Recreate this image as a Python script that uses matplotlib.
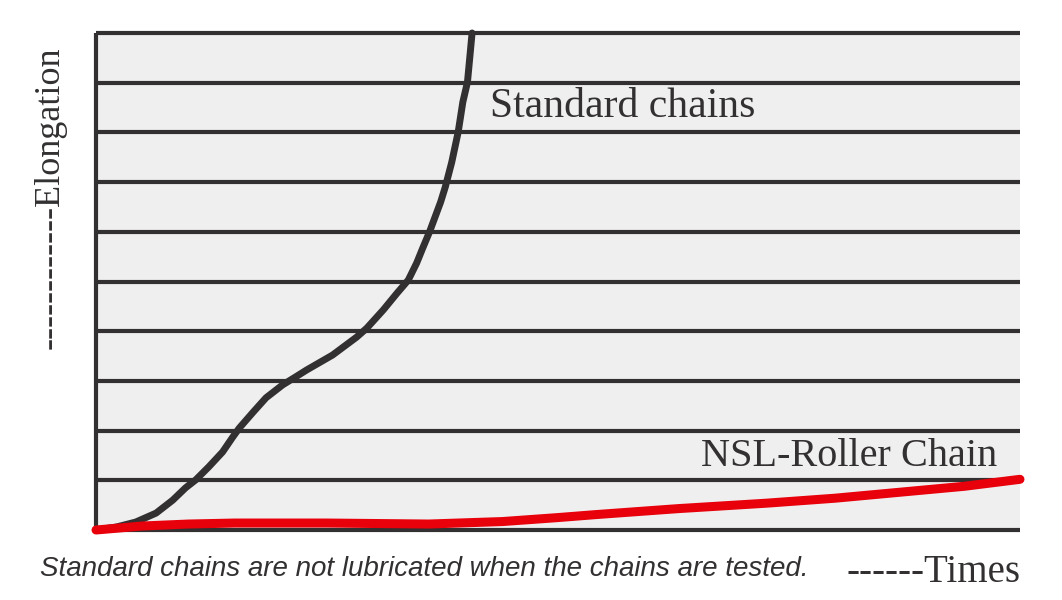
import matplotlib
matplotlib.use("Agg")
import matplotlib.pyplot as plt

# Data (x: Times, y: Elongation, grid units)
std_x = [0.00, 0.22, 0.43, 0.65, 0.83, 0.97, 1.08, 1.22, 1.37, 1.48, 1.55, 1.70, 1.84,
         2.02, 2.16, 2.28, 2.56, 2.82, 2.93, 3.11, 3.26, 3.38, 3.47, 3.54, 3.61, 3.68,
         3.73, 3.78, 3.85, 3.92, 3.97, 4.02, 4.05, 4.07]
std_y = [0.00, 0.06, 0.16, 0.34, 0.60, 0.85, 1.01, 1.27, 1.57, 1.87, 2.05, 2.37, 2.66,
         2.92, 3.08, 3.22, 3.52, 3.88, 4.06, 4.43, 4.77, 5.03, 5.37, 5.69, 6.00, 6.35,
         6.60, 6.90, 7.40, 8.01, 8.61, 9.01, 9.60, 10.00]
nsl_x = [0.00, 0.50, 1.00, 1.50, 2.50, 3.60, 4.40, 5.00, 5.41, 6.30, 7.26, 8.00, 8.70, 9.40, 10.00]
nsl_y = [0.00, 0.08, 0.12, 0.14, 0.14, 0.12, 0.17, 0.25, 0.31, 0.43, 0.54, 0.64, 0.76, 0.88, 1.02]
grid_levels = list(range(0, 11))

series_labels = ["Standard chains", "NSL-Roller Chain"]
y_label = "------------Elongation"
x_label = "------Times"
note = "Standard chains are not lubricated when the chains are tested."

fig = plt.figure(figsize=(10.62, 6.0), dpi=100)
fig.patch.set_facecolor("white")
ax = fig.add_axes([96 / 1062, 1 - 530 / 600, (1020 - 96) / 1062, (530 - 33) / 600])
ax.set_facecolor("#efefef")
ax.set_xlim(0, 10)
ax.set_ylim(0, 10)
for s in ax.spines.values():
    s.set_visible(False)
ax.set_xticks([])
ax.set_yticks([])

dark = "#333031"
ax.hlines(grid_levels, 0, 10, colors=dark, linewidth=3.0, clip_on=False, zorder=2)
ax.vlines(0, 0, 10, colors=dark, linewidth=3.0, clip_on=False, zorder=2)

ax.plot(std_x, std_y, color=dark, linewidth=5.0, solid_capstyle="round",
        solid_joinstyle="round", clip_on=False, zorder=3)
ax.plot(nsl_x, nsl_y, color="#e8000b", linewidth=6.5, solid_capstyle="round",
        solid_joinstyle="round", clip_on=False, zorder=4)

serif = ["Liberation Serif", "DejaVu Serif"]
ax.text(4.26, 8.51, series_labels[0], fontsize=30, family=serif, color=dark,
        ha="left", va="center")
ax.text(9.75, 1.47, series_labels[1], fontsize=29, family=serif, color=dark,
        ha="right", va="center")

fig.text(50 / 1062, 1 - 198 / 600, y_label, fontsize=26, family=serif, color=dark,
         rotation=90, ha="center", va="center")
fig.text(1020 / 1062, 1 - 572 / 600, x_label, fontsize=28, family=serif, color=dark,
         ha="right", va="center")
fig.text(40 / 1062, 1 - 569 / 600, note, fontsize=20, family=["Liberation Sans", "DejaVu Sans"],
         style="italic", color=dark, ha="left", va="center")

fig.savefig("out.png", dpi=100)
